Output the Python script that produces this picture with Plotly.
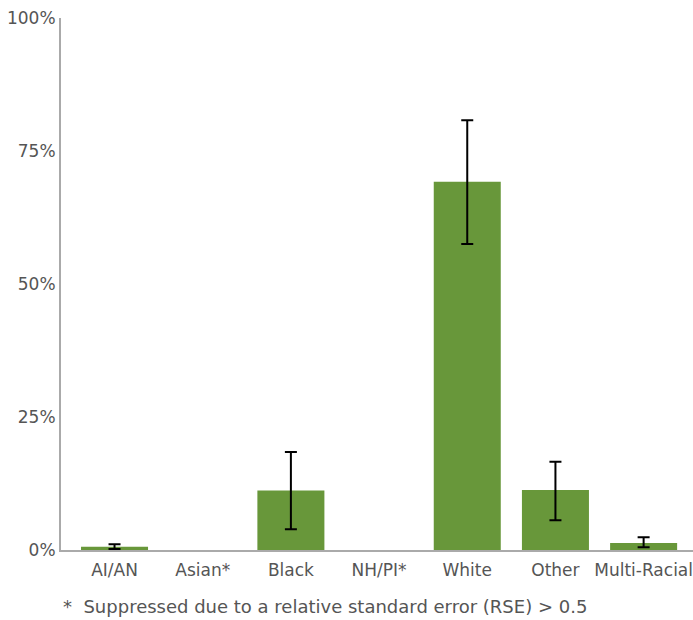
import plotly.graph_objects as go

categories = ["AI/AN", "Asian*", "Black", "NH/PI*", "White", "Other", "Multi-Racial"]
values = [0.6, None, 11.2, None, 69.2, 11.3, 1.3]
err_high = [1.1, None, 18.4, None, 80.8, 16.6, 2.4]
err_low = [0.2, None, 3.9, None, 57.5, 5.6, 0.5]
y_ticks = [0, 25, 50, 75, 100]
y_tick_labels = ["0%", "25%", "50%", "75%", "100%"]
footnote = "*  Suppressed due to a relative standard error (RSE) > 0.5"

plus = [(h - v) if v is not None else None for v, h in zip(values, err_high)]
minus = [(v - l) if v is not None else None for v, l in zip(values, err_low)]

fig = go.Figure(go.Bar(
    x=list(range(len(categories))),
    y=values,
    width=0.76,
    marker=dict(color="#68973a", line=dict(width=0)),
    error_y=dict(type="data", symmetric=False, array=plus, arrayminus=minus,
                 color="black", thickness=2, width=6),
))

fig.update_layout(
    width=693, height=620,
    margin=dict(l=61, r=0, t=18, b=70),
    plot_bgcolor="white", paper_bgcolor="white",
    font=dict(family="DejaVu Sans, sans-serif", size=17, color="#555555"),
    showlegend=False,
    xaxis=dict(
        range=[-0.607, 6.56],
        tickmode="array", tickvals=list(range(len(categories))), ticktext=categories,
        showline=True, linecolor="#aaaaaa", linewidth=2,
        showgrid=False, zeroline=False, ticks="outside", ticklen=4, tickcolor="rgba(0,0,0,0)",
        tickfont=dict(size=17, color="#555555"),
        ticklabeloverflow="allow",
    ),
    yaxis=dict(
        range=[0, 100],
        tickmode="array", tickvals=y_ticks, ticktext=y_tick_labels,
        showline=True, linecolor="#aaaaaa", linewidth=2,
        showgrid=False, zeroline=False, ticks="", ticklen=0,
        tickfont=dict(size=17, color="#555555"),
    ),
    annotations=[dict(
        text=footnote, xref="paper", yref="paper", x=0.0, y=-0.082,
        xanchor="left", yanchor="top", showarrow=False,
        font=dict(size=18, color="#555555"),
    )],
)

fig.write_html("out.html", config={"displayModeBar": False},
               post_script="document.body.style.margin='0';document.body.style.padding='0';")
